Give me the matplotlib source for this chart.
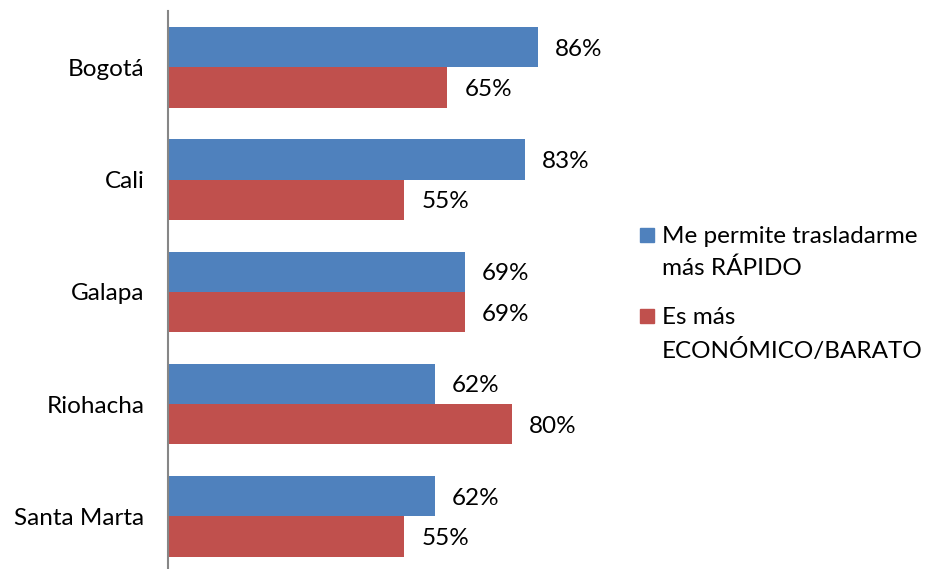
import matplotlib
matplotlib.use("Agg")
import matplotlib.pyplot as plt
from matplotlib.patches import Rectangle
import numpy as np

plt.rcParams['font.family'] = ['Lato', 'DejaVu Sans']

cities = ["Bogotá", "Cali", "Galapa", "Riohacha", "Santa Marta"]
rapido = [86, 83, 69, 62, 62]
economico = [65, 55, 69, 80, 55]
series_names = ["Me permite trasladarme\nmás RÁPIDO", "Es más\nECONÓMICO/BARATO"]
colors = ["#4F81BD", "#C0504D"]

W, H = 928, 569
fig = plt.figure(figsize=(W / 100, H / 100), dpi=100)
ax = fig.add_axes([168 / W, (H - 572.4) / H, 430 / W, 561 / H])

y = np.arange(len(cities))
bh = 0.36
ax.barh(y - bh / 2, rapido, height=bh, color=colors[0])
ax.barh(y + bh / 2, economico, height=bh, color=colors[1])

fs = 17.5
for yi, v in zip(y, rapido):
    ax.annotate(f"{v}%", (v, yi - bh / 2), xytext=(17, -2), textcoords="offset pixels",
                va="center", ha="left", fontsize=fs, color="black")
for yi, v in zip(y, economico):
    ax.annotate(f"{v}%", (v, yi + bh / 2), xytext=(17, -2), textcoords="offset pixels",
                va="center", ha="left", fontsize=fs, color="black")

ax.set_xlim(0, 100)
ax.set_ylim(len(cities) - 0.5, -0.5)
ax.set_yticks(y)
ax.set_yticklabels(cities, fontsize=fs)
ax.tick_params(axis="y", length=0, pad=17)
ax.set_xticks([])
for s in ["top", "right", "bottom"]:
    ax.spines[s].set_visible(False)
ax.spines["left"].set_color("#868686")
ax.spines["left"].set_linewidth(1.5)

# legend
leg_x = 640
leg_rows = [235, 316]
for name, c, ly in zip(series_names, colors, leg_rows):
    fig.add_artist(Rectangle((leg_x / W, 1 - (ly + 7) / H), 14 / W, 14 / H,
                             transform=fig.transFigure, color=c))
    fig.text(662 / W, 1 - (ly - 9) / H, name, fontsize=fs, va="top", ha="left",
             linespacing=1.6)

fig.savefig("out.png", dpi=100)
